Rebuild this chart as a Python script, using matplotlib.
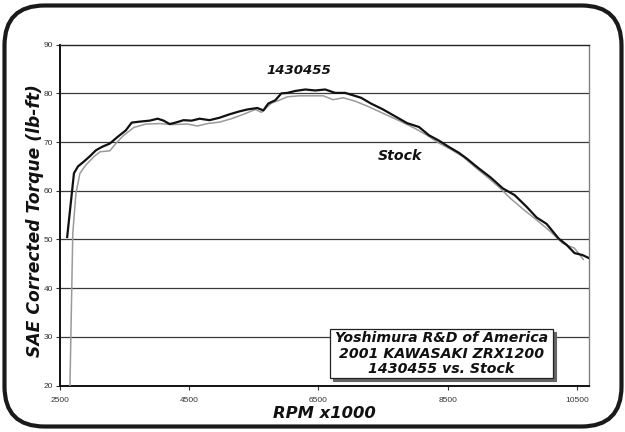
import matplotlib
matplotlib.use("Agg")
import matplotlib.pyplot as plt
from matplotlib.patches import FancyBboxPatch, Rectangle

# --- data ---
rpm_mod = [2611, 2716, 2778, 2870, 2963, 3055, 3148, 3271, 3395, 3518, 3610, 3734,
           3888, 4011, 4104, 4197, 4289, 4413, 4536, 4660, 4814, 4969, 5123, 5277,
           5401, 5555, 5648, 5722, 5833, 5926, 6018, 6142, 6296, 6450, 6605, 6759,
           6914, 7037, 7160, 7315, 7500, 7685, 7870, 8056, 8210, 8364, 8519, 8673,
           8796, 8981, 9167, 9352, 9537, 9722, 9877, 10031, 10216, 10340, 10463,
           10586, 10697]
tq_mod = [50.5, 63.6, 65.0, 66.0, 67.1, 68.3, 69.0, 69.7, 71.1, 72.4, 74.0, 74.2,
          74.4, 74.8, 74.4, 73.7, 74.0, 74.5, 74.4, 74.8, 74.5, 75.0, 75.7, 76.3,
          76.7, 77.0, 76.5, 77.9, 78.6, 80.0, 80.1, 80.5, 80.8, 80.6, 80.8, 80.1,
          80.1, 79.6, 79.1, 77.9, 76.7, 75.3, 73.9, 73.1, 71.4, 70.3, 69.0, 67.8,
          66.6, 64.6, 62.7, 60.5, 59.1, 56.7, 54.5, 53.2, 50.2, 48.9, 47.2,
          46.8, 46.1]

rpm_stock = [2654, 2698, 2747, 2809, 2901, 3025, 3117, 3271, 3364, 3487, 3642, 3827,
             4043, 4228, 4475, 4629, 4783, 4969, 5154, 5339, 5524, 5617, 5771, 5895,
             6018, 6204, 6389, 6574, 6728, 6883, 7068, 7253, 7500, 7747, 7994, 8179,
             8364, 8549, 8735, 8920, 9105, 9290, 9475, 9660, 9877, 10093, 10278,
             10463, 10599]
tq_stock = [20.0, 51.3, 59.5, 63.6, 65.3, 67.0, 68.0, 68.2, 69.7, 71.4, 73.0, 73.7,
            73.8, 73.6, 73.7, 73.3, 73.8, 74.1, 74.8, 75.7, 76.7, 76.1, 78.0, 78.6,
            79.3, 79.5, 79.5, 79.5, 78.7, 79.1, 78.4, 77.4, 75.9, 74.4, 72.8, 71.4,
            69.8, 68.5, 67.0, 64.9, 62.9, 60.8, 58.4, 56.3, 54.0, 51.6, 49.2,
            48.2, 45.9]

x_ticks = [2500, 4500, 6500, 8500, 10500]
y_ticks = [20, 30, 40, 50, 60, 70, 80, 90]
x_label = "RPM x1000"
y_label = "SAE Corrected Torque (lb-ft)"
mod_name = "1430455"
stock_name = "Stock"
box_lines = ["Yoshimura R&D of America", "2001 KAWASAKI ZRX1200", "1430455 vs. Stock"]

W, H = 625, 432
fig = plt.figure(figsize=(W / 100, H / 100), dpi=100)
fig.patch.set_facecolor("white")

# rounded frame (pixel coordinates)
bg = fig.add_axes([0, 0, 1, 1], zorder=-1)
bg.set_xlim(0, W)
bg.set_ylim(H, 0)
bg.axis("off")
bg.add_patch(FancyBboxPatch((4.5, 5.5), 617, 421, boxstyle="round,pad=0,rounding_size=40",
                            fill=False, lw=3.0, ec="#1a1a1a"))

L, R, T, B = 60, 589.3, 44.7, 385.5
ax = fig.add_axes([L / W, 1 - B / H, (R - L) / W, (B - T) / H])
ax.set_xlim(2500, 10692)
ax.set_ylim(20, 90)
ax.set_facecolor("white")

ax.set_yticks(y_ticks)
ax.set_xticks(x_ticks)
for y in y_ticks[1:-1]:
    ax.axhline(y, color="#3a3a3a", lw=0.9, zorder=1)

ax.plot(rpm_stock, tq_stock, color="#9a9a9a", lw=1.1, zorder=3, clip_on=True)
ax.plot(rpm_mod, tq_mod, color="#111111", lw=1.6, zorder=4)

for side in ["left", "bottom"]:
    ax.spines[side].set_color("#111111")
    ax.spines[side].set_linewidth(1.4)
ax.spines["top"].set_color("#222222")
ax.spines["top"].set_linewidth(1.0)
ax.spines["right"].set_color("#808080")
ax.spines["right"].set_linewidth(1.0)

ax.tick_params(axis="both", direction="out", length=3, width=0.8, color="#333333",
               labelsize=6, labelcolor="#333333", pad=2)
for lab in ax.get_xticklabels() + ax.get_yticklabels():
    lab.set_family("Liberation Sans")
ax.tick_params(axis="x", pad=5)

lbl_font = dict(family="DejaVu Sans", weight="heavy", style="italic", color="#111111")
fig.text((L + R) / 2 / W, 1 - 413 / H, x_label, ha="center", va="center",
         fontsize=11.8, **lbl_font)
fig.text(35 / W, 1 - 220.5 / H, y_label, ha="center", va="center",
         rotation=90, fontsize=12.3, **lbl_font)

ax.text(6202, 84.6, mod_name, ha="center", va="center", fontsize=9.6, zorder=6, **lbl_font)
ax.text(7757, 67.1, stock_name, ha="center", va="center", fontsize=10.2, zorder=6, **lbl_font)

# annotation box with shadow
bx0, bx1 = (330 - L) / (R - L), (553 - L) / (R - L)
by0, by1 = (B - 378) / (B - T), (B - 329) / (B - T)
sx, sy = 3 / (R - L), 3 / (B - T)
ax.add_patch(Rectangle((bx0 + sx, by0 - sy), bx1 - bx0, by1 - by0, transform=ax.transAxes,
                       facecolor="#666666", edgecolor="#666666", lw=0.8, zorder=7))
ax.add_patch(Rectangle((bx0, by0), bx1 - bx0, by1 - by0, transform=ax.transAxes,
                       facecolor="white", edgecolor="#222222", lw=0.9, zorder=8))
cx = (bx0 + bx1) / 2
for text, py in zip(box_lines, [338, 353.5, 369]):
    ax.text(cx, (B - py) / (B - T), text, transform=ax.transAxes, ha="center", va="center",
            fontsize=10.2, zorder=9, **lbl_font)

fig.savefig("out.png", dpi=100)
